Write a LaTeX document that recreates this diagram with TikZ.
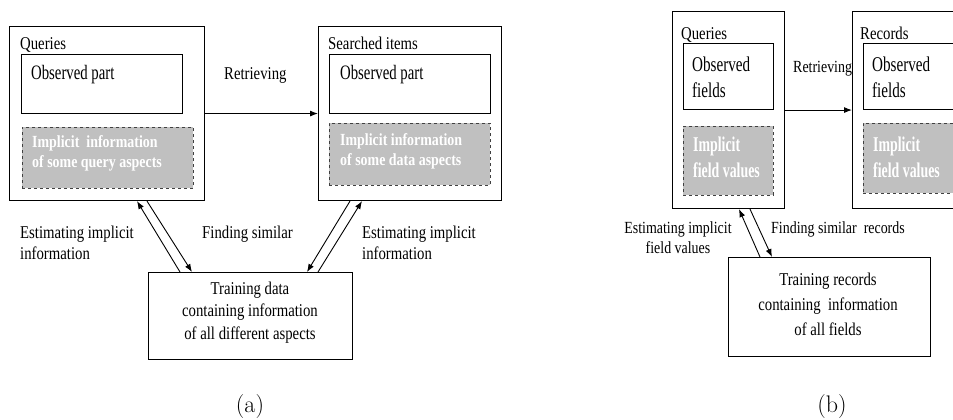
\documentclass[tikz,border=0pt]{standalone}
\usepackage{fontspec}
\newfontfamily\tnr{Liberation Serif}[FakeStretch=0.82]
\newfontfamily\tnrn{Liberation Serif}[FakeStretch=0.72]
\newfontfamily\tnrw{Liberation Serif}[FakeStretch=0.66]
\usetikzlibrary{arrows.meta,calc}
\definecolor{implicitgray}{RGB}{192,192,192}
\tikzset{
  outerbox/.style={draw, line width=1.1pt, inner sep=0pt, anchor=north west},
  observedbox/.style={draw, line width=1pt, inner sep=0pt, anchor=north west},
  implicitbox/.style={draw=black!75, dashed, line width=0.9pt, fill=implicitgray,
    inner sep=0pt, anchor=north west},
  % multi-line texts are placed by the baseline of their last line
  plain/.style={inner sep=0pt, anchor=base west, align=left,
    font=\tnr\fontsize{18}{#1}\selectfont},
  plain/.default=21,
  tall/.style={inner sep=0pt, anchor=base west, align=left,
    font=\tnrn\fontsize{#1}{25}\selectfont},
  tall/.default=20.5,
  hiddena/.style={inner sep=0pt, anchor=base west, align=left, text=white,
    font=\tnr\bfseries\fontsize{17}{19.5}\selectfont},
  hiddenb/.style={inner sep=0pt, anchor=base west, align=left, text=white,
    font=\tnrw\bfseries\fontsize{21}{26}\selectfont},
  flow/.style={line width=0.9pt, -{Latex[length=8pt,width=6pt]}},
  caption/.style={inner sep=0pt, anchor=base,
    font=\addfontfeatures{FakeStretch=0.88}\fontsize{24}{24}\selectfont},
}
\begin{document}
\begin{tikzpicture}[x=1pt,y=-1pt]
\useasboundingbox (0,0) rectangle (953,420);
\clip (0,0) rectangle (953,420);

% ---------- (a) general scheme ----------
\node[outerbox, minimum width=195pt, minimum height=174pt] (qa) at (9,26) {};
\node[observedbox, minimum width=161pt, minimum height=59pt] (oa1) at (21,54) {};
\node[implicitbox, minimum width=171pt, minimum height=61pt] (ia1) at (22,127) {};
\node[plain] (qalab) at (20,50) {Queries};
\node[tall] (oa1lab) at (31,80) {Observed part};
\node[hiddena] (ia1lab) at (32,167) {Implicit\ \ information\\of some query aspects};

\node[outerbox, minimum width=183pt, minimum height=174pt] (sa) at (318,26) {};
\node[observedbox, minimum width=161pt, minimum height=59pt] (oa2) at (329,54) {};
\node[implicitbox, minimum width=161pt, minimum height=62pt] (ia2) at (329,123) {};
\node[plain] (salab) at (328,50) {Searched items};
\node[tall] (oa2lab) at (340,80) {Observed part};
\node[hiddena] (ia2lab) at (340,165) {Implicit information\\of some data aspects};

\node[outerbox, minimum width=204pt, minimum height=87pt] (ta) at (148,272) {};
\node[plain=22.5, anchor=base, align=center] (talab) at (250,339)
  {Training data\\containing information\\of all different aspects};

\draw[flow] (qa.east) -- (sa.west);
\node[plain] (retra) at (224,80) {Retrieving};

\coordinate (qa1) at ($(qa.south west)+(128,0)$);
\coordinate (qa2) at ($(qa.south west)+(138,0)$);
\coordinate (ta1) at ($(ta.north west)+(32,0)$);
\coordinate (ta2) at ($(ta.north west)+(44,0)$);
\draw[flow] (ta1) -- (qa1);
\draw[flow] (qa2) -- (ta2);

\coordinate (sa1) at ($(sa.south west)+(32,0)$);
\coordinate (sa2) at ($(sa.south west)+(44,0)$);
\coordinate (ta3) at ($(ta.north west)+(159,0)$);
\coordinate (ta4) at ($(ta.north west)+(170,0)$);
\draw[flow] (sa1) -- (ta3);
\draw[flow] (ta4) -- (sa2);

\node[plain] (esta) at (20,259) {Estimating implicit\\information};
\node[plain] (finda) at (202,238) {Finding similar};
\node[plain] (estb) at (362,259) {Estimating implicit\\information};

\node[caption] (capa) at (250,412) {(a)};

% ---------- (b) records scheme ----------
\node[outerbox, minimum width=112pt, minimum height=197pt] (qb) at (672,11) {};
\node[observedbox, minimum width=90pt, minimum height=66pt] (ob1) at (683,43) {};
\node[implicitbox, minimum width=90pt, minimum height=69pt] (ib1) at (683,126) {};
\node[plain] (qblab) at (681,40) {Queries};
\node[tall=21] (ob1lab) at (692,97) {Observed\\fields};
\node[hiddenb] (ib1lab) at (693,177) {Implicit\\field values};

\node[outerbox, minimum width=120pt, minimum height=197pt] (rb) at (852,11) {};
\node[observedbox, minimum width=100pt, minimum height=66pt] (ob2) at (863,43) {};
\node[implicitbox, minimum width=100pt, minimum height=70pt] (ib2) at (863,123) {};
\node[plain] (rblab) at (860,40) {Records};
\node[tall=21] (ob2lab) at (872,97) {Observed\\fields};
\node[hiddenb] (ib2lab) at (873,177) {Implicit\\field values};

\draw[flow] (qb.east) -- (rb.west);
\node[plain, font=\tnr\fontsize{17}{20}\selectfont] (retrb) at (793,73) {Retrieving};

\node[outerbox, minimum width=202pt, minimum height=99pt] (tb) at (728,257) {};
\node[plain=25, anchor=base, align=center] (tblab) at (828,335)
  {Training records\\containing\ \ information\\of all fields};

\coordinate (qb1) at ($(qb.south west)+(67,0)$);
\coordinate (qb2) at ($(qb.south west)+(78,0)$);
\coordinate (tb1) at ($(tb.north west)+(32,0)$);
\coordinate (tb2) at ($(tb.north west)+(44,0)$);
\draw[flow] (tb1) -- (qb1);
\draw[flow] (qb2) -- (tb2);

\node[plain, anchor=base, align=center, font=\tnr\fontsize{17}{20}\selectfont]
  (estc) at (678,253) {Estimating implicit\\field values};
\node[plain, font=\tnr\fontsize{17}{20}\selectfont] (findb) at (771,233)
  {Finding similar\ \ records};

\node[caption] (capb) at (832,412) {(b)};
\end{tikzpicture}
\end{document}
